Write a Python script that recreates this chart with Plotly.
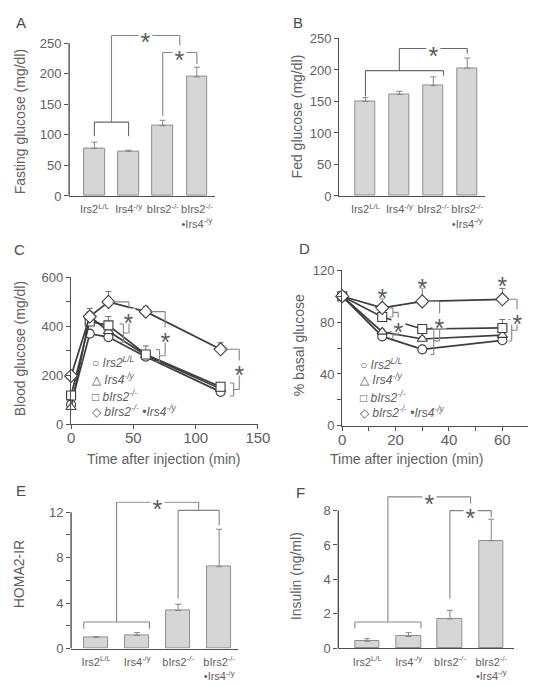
import plotly.graph_objects as go

W, H = 536, 686

# ---------------- data ----------------
bar_categories = ["Irs2<sup>L/L</sup>", "Irs4<sup>-/y</sup>", "bIrs2<sup>-/-</sup>",
                  "bIrs2<sup>-/-</sup><br>•Irs4<sup>-/y</sup>"]
bar_positions = [0, 1, 2, 3]

fasting_glucose = [78, 73, 115, 195]
fasting_glucose_err = [10, 2, 9, 16]
fed_glucose = [150, 161, 175, 203]
fed_glucose_err = [6, 5, 14, 16]
homa2_ir = [1.0, 1.15, 3.35, 7.2]
homa2_ir_err = [0.05, 0.25, 0.55, 3.3]
insulin = [0.4, 0.68, 1.7, 6.25]
insulin_err = [0.15, 0.22, 0.5, 1.25]

gtt_time = [0, 15, 30, 60, 120]
gtt_irs2 = [80, 370, 356, 276, 132]
gtt_irs2_err = [4, 8, 8, 10, 8]
gtt_irs4 = [69, 440, 380, 282, 145]
gtt_irs4_err = [4, 33, 15, 12, 10]
gtt_birs2 = [117, 420, 404, 285, 153]
gtt_birs2_err = [8, 15, 36, 35, 15]
gtt_dko = [197, 440, 500, 460, 306]
gtt_dko_err = [8, 20, 42, 22, 27]

itt_time = [0, 15, 30, 60]
itt_irs2 = [100, 69, 59, 66]
itt_irs2_err = [0, 2, 2, 2]
itt_irs4 = [100, 72.5, 67, 70]
itt_irs4_err = [0, 2, 2, 3]
itt_birs2 = [100, 84, 74.7, 75.5]
itt_birs2_err = [0, 2, 2, 6.5]
itt_dko = [100, 91, 96, 97.6]
itt_dko_err = [0, 7, 10, 8.4]

legend_symbols = ["○", "△", "□", "◇"]
legend_labels = ["<i>Irs2<sup>L/L</sup></i>", "<i>Irs4<sup>-/y</sup></i>",
                 "<i>bIrs2<sup>-/-</sup></i>", "<i>bIrs2<sup>-/-</sup> •Irs4<sup>-/y</sup></i>"]
marker_symbols = ["circle", "triangle-up", "square", "diamond"]

# ---------------- style ----------------
TX = "#606060"
AX = "#505050"
BR = "#858585"
BAR_FILL = "#d6d6d6"
BAR_LINE = "#8e8e8e"
FONT = "Liberation Sans, Arial, sans-serif"


def dx(a, b):
    return [a / W, b / W]


def dy(bottom_px, top_px):
    return [1 - bottom_px / H, 1 - top_px / H]


def top_px(bottom, tick_px, tick_val, range_top):
    return bottom - (bottom - tick_px) * range_top / tick_val


fig = go.Figure()
shapes = []
annotations = []


def ref(n):
    return ("x", "y") if n == 1 else (f"x{n}", f"y{n}")


def bar_panel(n, values, errs):
    xa, ya = ref(n)
    fig.add_trace(go.Bar(
        x=bar_positions, y=values, width=0.6, xaxis=xa, yaxis=ya,
        marker=dict(color=BAR_FILL, line=dict(color=BAR_LINE, width=1)),
        error_y=dict(type="data", symmetric=False, array=errs,
                     arrayminus=[0] * len(errs), color="#858585",
                     thickness=1, width=3),
        showlegend=False))


def line_panel(n, t, series, errs):
    xa, ya = ref(n)
    for vals, er, sym in zip(series, errs, marker_symbols):
        fig.add_trace(go.Scatter(
            x=t, y=vals, xaxis=xa, yaxis=ya, mode="lines+markers",
            cliponaxis=False,
            line=dict(color="#3d3d3d", width=1.7),
            marker=dict(symbol=sym, size=9 if sym != "diamond" else 10,
                        color="white", line=dict(color="#3d3d3d", width=1.1)),
            error_y=dict(type="data", symmetric=False, array=er,
                         arrayminus=[0] * len(er), color="#707070",
                         thickness=1, width=3),
            showlegend=False))


def seg(n, x0, y0, x1, y1, color=BR):
    xa, ya = ref(n)
    shapes.append(dict(type="line", xref=xa, yref=ya, x0=x0, y0=y0, x1=x1, y1=y1,
                       line=dict(color=color, width=1.1), layer="above"))


def star(n, x, y):
    xa, ya = ref(n)
    annotations.append(dict(xref=xa, yref=ya, x=x, y=y, text="*", showarrow=False,
                            font=dict(size=25, color="#5a5a5a", family=FONT),
                            bgcolor="white", borderpad=0, width=13, height=14,
                            xanchor="center", yanchor="middle", valign="top"))


def bar_bracket(n, x0, x1, y, d0, d1, color=BR):
    seg(n, x0, y, x1, y, color)
    seg(n, x0, y, x0, d0, color)
    seg(n, x1, y, x1, d1, color)


def group(n, x, lo, hi, xm, tick):
    if hi > lo:
        seg(n, x, lo, x, hi)
        seg(n, x - tick, lo, x, lo)
        seg(n, x - tick, hi, x, hi)
        mid = (lo + hi) / 2
        seg(n, x, mid, xm, mid)
    else:
        mid = lo
        seg(n, x, mid, xm, mid)
    return mid


def compare(n, top, bot, xm, star_y, tick):
    m1 = group(n, *top, xm, tick)
    m2 = group(n, *bot, xm, tick)
    seg(n, xm, m2, xm, m1)
    star(n, xm, star_y)


# ---------------- traces ----------------
bar_panel(1, fasting_glucose, fasting_glucose_err)
bar_panel(2, fed_glucose, fed_glucose_err)
line_panel(3, gtt_time, [gtt_irs2, gtt_irs4, gtt_birs2, gtt_dko],
           [gtt_irs2_err, gtt_irs4_err, gtt_birs2_err, gtt_dko_err])
line_panel(4, itt_time, [itt_irs2, itt_irs4, itt_birs2, itt_dko],
           [itt_irs2_err, itt_irs4_err, itt_birs2_err, itt_dko_err])
bar_panel(5, homa2_ir, homa2_ir_err)
bar_panel(6, insulin, insulin_err)

# ---------------- brackets ----------------
# A
bar_bracket(1, 0, 1, 121, 98, 98, "#6a6a6a")
bar_bracket(1, 2, 3, 235, 131, 216)
bar_bracket(1, 0.5, 2.5, 263, 121, 235)
star(1, 2.5, 235)
star(1, 1.5, 263)
# B
bar_bracket(2, 0, 2.3, 199, 158, 191, "#6a6a6a")
bar_bracket(2, 1, 3, 234, 199, 226, "#6a6a6a")
star(2, 2, 234)
# C
compare(3, (33, 500, 500), (42, 335, 410), 46.5, 441, 3)
compare(3, (63, 460, 460), (71, 255, 305), 75.5, 366, 3)
compare(3, (123, 306, 306), (130.5, 115, 168), 135, 228, 3)
# D
compare(4, (19, 84, 91), (19, 67.6, 72.7), 21, 78, 1.2)
compare(4, (32, 96, 96), (34.3, 55, 76), 36.5, 81, 1.2)
compare(4, (62, 97.6, 97.6), (63.5, 65.4, 82), 65.5, 84, 1.2)
for t, y in zip([15, 30, 60], [104, 112, 113]):
    star(4, t, y)
# E
bar_bracket(5, -0.3, 1.3, 2.33, 1.75, 1.75)
bar_bracket(5, 2, 3, 12.16, 4.4, 10.86)
bar_bracket(5, 0.5, 2.5, 12.87, 2.33, 12.16)
star(5, 1.5, 12.87)
# F
bar_bracket(6, -0.3, 1.3, 1.52, 1.14, 1.14)
bar_bracket(6, 2, 3, 8.0, 2.88, 7.62)
bar_bracket(6, 0.5, 2.5, 8.8, 1.52, 8.0)
star(6, 2.5, 8.0)
star(6, 1.5, 8.8)

# y-axis lines for panels whose range is extended above the top tick
for n, top in [(1, 250), (5, 12), (6, 8)]:
    xa, ya = ref(n)
    shapes.append(dict(type="line", xref=f"{xa} domain", yref=ya, x0=0, x1=0, y0=0, y1=top,
                       line=dict(color=AX, width=1.4), layer="above"))

# ---------------- axes ----------------
base = dict(showgrid=False, zeroline=False, linecolor=AX, linewidth=1.4,
            tickcolor=AX, tickwidth=1.2, ticklen=4, ticks="outside",
            tickfont=dict(size=13, color=TX, family=FONT), fixedrange=True)


def cat_x(domain, rng, anchor):
    d = dict(base)
    d.update(domain=domain, range=rng, anchor=anchor, tickvals=bar_positions,
             ticktext=bar_categories, ticks="", showline=True, tickangle=0,
             tickfont=dict(size=11, color=TX, family=FONT), ticklabelstandoff=3)
    return d


def val_y(domain, rng, anchor, tickvals, ticktext, showline):
    d = dict(base)
    d.update(domain=domain, range=rng, anchor=anchor, tickvals=tickvals,
             ticktext=ticktext, showline=showline)
    return d


A_top = top_px(185, 29, 250, 266)
E_top = top_px(647.7, 508.3, 12, 12.95)
F_top = top_px(647.3, 506.7, 8, 8.85)

layout_axes = dict(
    xaxis=cat_x(dx(59, 210), [-0.74, 3.54], "y"),
    yaxis=val_y(dy(185, A_top), [0, 266], "x", [0, 50, 100, 150, 200, 250],
                ["0", "50", "100", "150", "200", "250"], False),
    xaxis2=cat_x(dx(338, 488), [-0.77, 3.51], "y2"),
    yaxis2=val_y(dy(185, 24), [0, 250], "x2", [0, 50, 100, 150, 200, 250],
                 ["0", "50", "100", "150", "200", "250"], True),
    xaxis3=dict(base, domain=dx(61, 254), range=[0, 150], anchor="y3",
                tickvals=[0, 50, 100, 150], showline=True, ticklabelstandoff=-4,
                tickfont=dict(size=15, color=TX, family=FONT)),
    yaxis3=val_y(dy(418.3, 268.3), [0, 600], "x3", [0, 100, 200, 300, 400, 500, 600],
                 ["0", "", "200", "", "400", "", "600"], True),
    xaxis4=dict(base, domain=dx(341, 534), range=[0, 70], anchor="y4",
                tickvals=[0, 10, 20, 30, 40, 50, 60, 70],
                ticktext=["0", "", "20", "", "40", "", "60", ""], showline=True,
                ticklabelstandoff=-4,
                tickfont=dict(size=15, color=TX, family=FONT)),
    yaxis4=val_y(dy(420, 261), [0, 120], "x4", [0, 20, 40, 60, 80, 100, 120],
                 ["0", "", "40", "", "80", "", "120"], True),
    xaxis5=cat_x(dx(61, 233), [-0.61, 3.45], "y5"),
    yaxis5=val_y(dy(647.7, E_top), [0, 12.95], "x5", [0, 2, 4, 6, 8, 10, 12],
                 ["0", "", "4", "", "8", "", "12"], False),
    xaxis6=cat_x(dx(337, 518), [-0.70, 3.54], "y6"),
    yaxis6=val_y(dy(647.3, F_top), [0, 8.85], "x6", [0, 2, 4, 6, 8],
                 ["0", "2", "4", "6", "8"], False),
)

# ---------------- text annotations ----------------
def ptext(x, y, text, size, angle=0, color=TX, xanchor="center"):
    annotations.append(dict(xref="paper", yref="paper", x=x / W, y=1 - y / H, text=text,
                            showarrow=False, textangle=angle, xanchor=xanchor, yanchor="middle",
                            font=dict(size=size, color=color, family=FONT)))


for letter, x, y in [("A", 9, 8), ("B", 295, 8), ("C", 8, 240), ("D", 302, 239),
                     ("E", 9, 486), ("F", 298, 488)]:
    ptext(x, y, letter, 15, color="#4a4a4a")

for title, x, y in [("Fasting glucose (mg/dl)", 8, 109), ("Fed glucose (mg/dl)", 294, 104),
                    ("Blood glucose (mg/dl)", 8, 341), ("% basal glucose", 296, 338),
                    ("HOMA2-IR", 8, 572), ("Insulin (ng/ml)", 294, 574)]:
    ptext(x, y, title, 14, angle=-90)

ptext(157, 454, "Time after injection (min)", 14)
ptext(408, 454, "Time after injection (min)", 14)

for (x0, ys) in [(81, [355, 371.7, 389.3, 405]), (357, [356.7, 371.7, 390.7, 405.7])]:
    for sym, lab, yy in zip(legend_symbols, legend_labels, ys):
        ptext(x0, yy, f"{sym} {lab}", 12, xanchor="left")

fig.update_layout(
    width=W, height=H, autosize=False,
    margin=dict(l=0, r=0, t=0, b=0),
    paper_bgcolor="white", plot_bgcolor="white",
    font=dict(family=FONT, color=TX),
    showlegend=False, bargap=0,
    shapes=shapes, annotations=annotations,
    **layout_axes,
)

fig.write_html("out.html")
